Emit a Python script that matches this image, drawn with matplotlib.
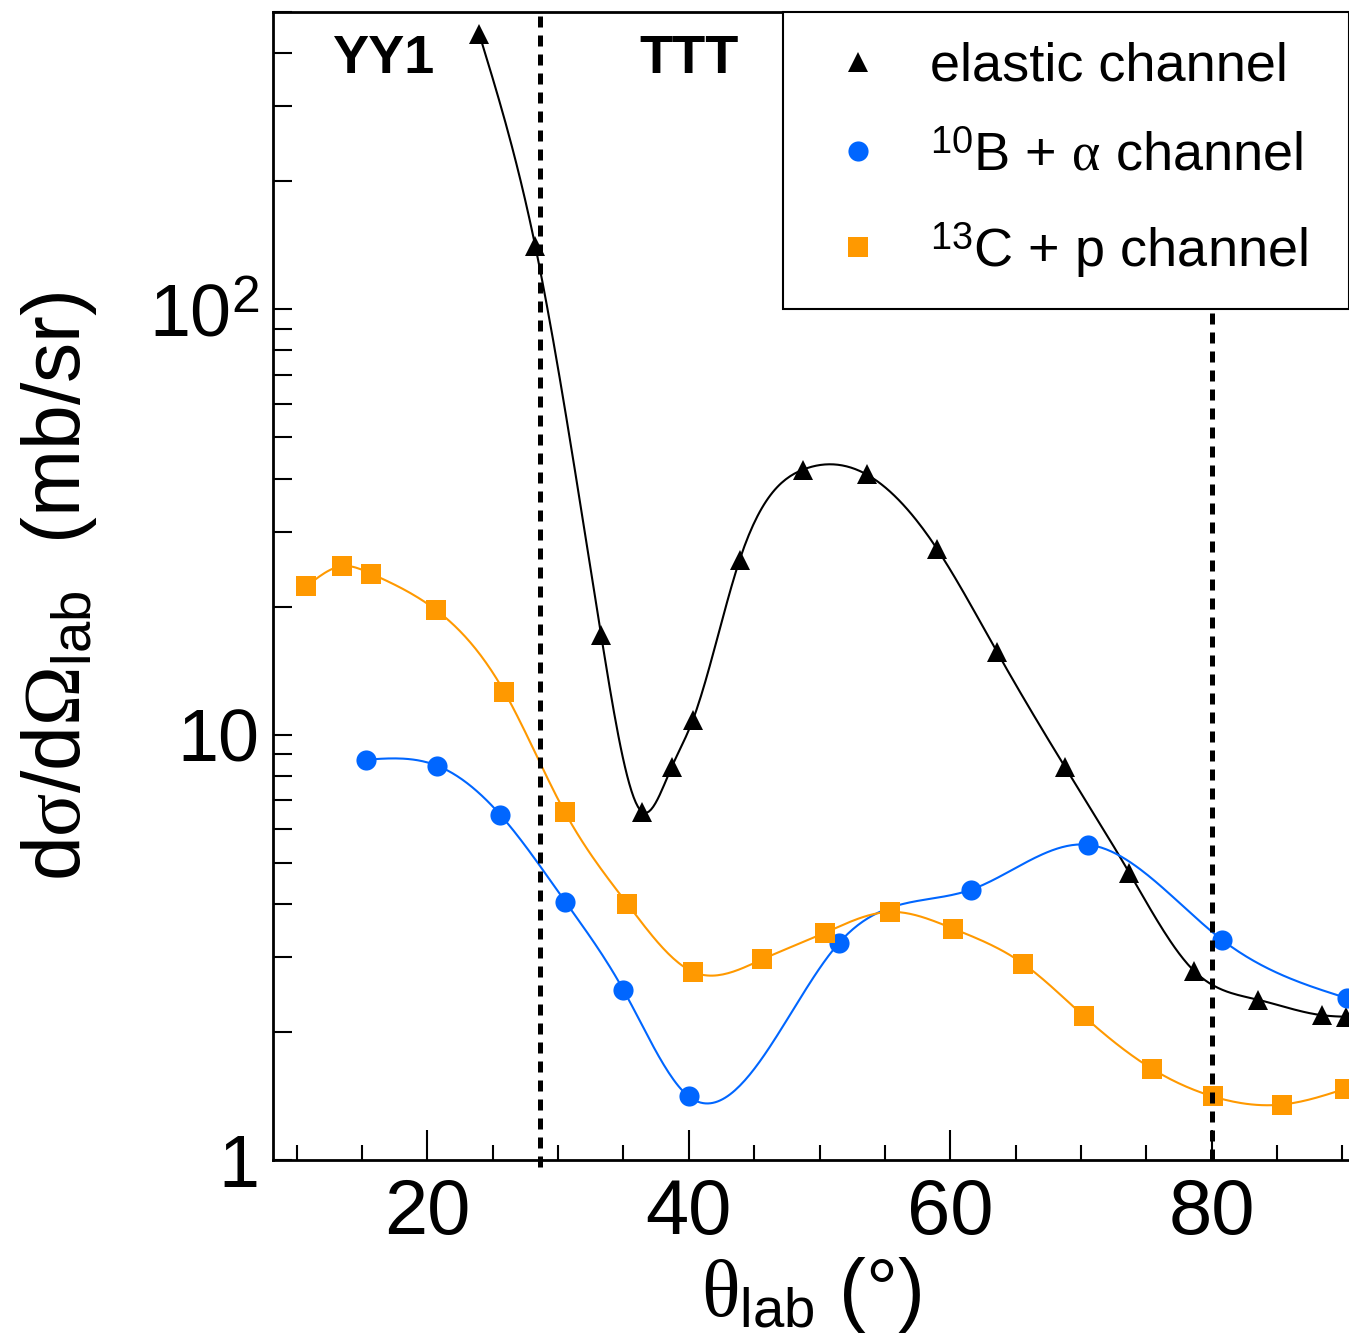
import numpy as np
import matplotlib
matplotlib.use('Agg')
import matplotlib.pyplot as plt
from matplotlib.ticker import FixedLocator, LogLocator, NullFormatter

plt.rcParams['font.family'] = ['Liberation Sans', 'DejaVu Sans']
plt.rcParams['mathtext.fontset'] = 'custom'
plt.rcParams['mathtext.rm'] = 'Liberation Sans'
plt.rcParams['mathtext.it'] = 'Liberation Serif'
plt.rcParams['mathtext.cal'] = 'Liberation Serif'
plt.rcParams['mathtext.bf'] = 'Liberation Sans:bold'

# elastic channel
el_theta = [23.98, 28.26, 33.3, 36.4, 38.7, 40.3, 43.9, 48.76, 53.6, 59.0,
            63.6, 68.8, 73.7, 78.66, 83.55, 88.4, 90.3]
el_xs = [443, 140.7, 17.1, 6.59, 8.4, 10.8, 25.8, 42.0, 40.9, 27.3,
         15.6, 8.37, 4.73, 2.78, 2.38, 2.19, 2.17]

# 10B + alpha channel
ba_theta = [15.33, 20.76, 25.58, 30.55, 35.0, 40.0, 51.5, 61.6, 70.5, 80.8, 90.36]
ba_xs = [8.73, 8.45, 6.48, 4.05, 2.51, 1.41, 3.24, 4.32, 5.51, 3.29, 2.40]

# 13C + p channel
cp_theta = [10.75, 13.5, 15.7, 20.7, 25.9, 30.5, 35.3, 40.3, 45.6, 50.4,
            55.4, 60.2, 65.6, 70.2, 75.4, 80.1, 85.4, 90.2]
cp_xs = [22.3, 24.9, 23.9, 19.6, 12.6, 6.59, 4.0, 2.77, 2.96, 3.42,
         3.83, 3.50, 2.89, 2.18, 1.64, 1.41, 1.35, 1.47]

det_edges = [28.64, 80.0]
det_names = ['YY1', 'TTT']
det_label_x = [16.6, 40.0]


def smooth(x, y, n=400):
    # natural cubic spline through the points, in log10(y)
    x = np.asarray(x, float)
    ly = np.log10(np.asarray(y, float))
    m = len(x)
    h = np.diff(x)
    A = np.zeros((m, m))
    b = np.zeros(m)
    A[0, 0] = A[-1, -1] = 1
    for i in range(1, m - 1):
        A[i, i - 1] = h[i - 1]
        A[i, i] = 2 * (h[i - 1] + h[i])
        A[i, i + 1] = h[i]
        b[i] = 6 * ((ly[i + 1] - ly[i]) / h[i] - (ly[i] - ly[i - 1]) / h[i - 1])
    M = np.linalg.solve(A, b)
    xs = np.linspace(x[0], x[-1], n)
    k = np.clip(np.searchsorted(x, xs) - 1, 0, m - 2)
    hk = h[k]
    t1 = x[k + 1] - xs
    t0 = xs - x[k]
    ys = (M[k] * t1**3 + M[k + 1] * t0**3) / (6 * hk) \
        + (ly[k] / hk - M[k] * hk / 6) * t1 + (ly[k + 1] / hk - M[k + 1] * hk / 6) * t0
    return xs, 10**ys


fig = plt.figure(figsize=(13.49, 13.43), dpi=100)
ax = fig.add_axes([0.2024, 0.1363, 0.7976, 0.8548])

black = 'black'
blue = '#0066ff'
orange = '#ff9900'

for th, val, col, mk, lab in [
        (el_theta, el_xs, black, '^', 'elastic channel'),
        (ba_theta, ba_xs, blue, 'o', r'$^{10}$B + $\alpha$ channel'),
        (cp_theta, cp_xs, orange, 's', r'$^{13}$C + p channel')]:
    sx, sy = smooth(th, val)
    ax.plot(sx, sy, color=col, lw=1.5, zorder=2)
    ax.plot(th, val, ls='none', marker=mk, color=col, ms=15 if mk != 'o' else 14.5,
            mew=0, label=lab, zorder=3)

ax.axvline(det_edges[0], ymin=-0.006, ymax=1, color='black', lw=3.6,
           ls=(0, (2.2, 1.6)), clip_on=False, zorder=4)
ax.axvline(det_edges[1], ymin=0, ymax=0.7535, color='black', lw=3.6,
           ls=(0, (2.2, 1.6)), zorder=4)

for nm, xx in zip(det_names, det_label_x):
    ax.text(xx, 387, nm, ha='center', va='center', fontsize=39, fontweight='bold')

ax.set_yscale('log')
ax.set_xlim(8.2, 90.5)
ax.set_ylim(1, 500)

ax.xaxis.set_major_locator(FixedLocator([20, 40, 60, 80]))
ax.xaxis.set_minor_locator(FixedLocator([10, 15, 25, 30, 35, 45, 50, 55, 65, 70, 75, 85, 90]))
ax.yaxis.set_major_locator(FixedLocator([1, 10, 100]))
ax.set_yticklabels(['1', '10', r'10$^2$'])
ax.yaxis.set_minor_locator(LogLocator(base=10, subs=np.arange(2, 10)))
ax.yaxis.set_minor_formatter(NullFormatter())

ax.tick_params(axis='x', which='major', direction='in', length=21.6, width=1.5,
               labelsize=56, pad=12, top=False)
ax.tick_params(axis='x', which='minor', direction='in', length=10.8, width=1.5, top=False)
ax.tick_params(axis='y', which='both', direction='in', length=13.7, width=1.5,
               labelsize=53, pad=10, right=False)

for s in ['left', 'bottom', 'top']:
    ax.spines[s].set_linewidth(2)
ax.spines['right'].set_visible(False)

ax.set_xlabel(r'$\theta_{\rm lab}$ (°)', fontsize=58, labelpad=4)
ax.set_ylabel(r'd$\sigma$/d$\mathcal{\Omega}_{\rm lab}$  (mb/sr)', fontsize=58, labelpad=36)

leg = ax.legend(loc='upper left', bbox_to_anchor=(0.474, 0.0, 0.526, 1.0), mode='expand',
                borderaxespad=0, fontsize=39, numpoints=1, handlelength=1.67,
                handletextpad=0.5, borderpad=0.55, labelspacing=0.72,
                fancybox=False, framealpha=1)
leg.get_frame().set_edgecolor('black')
leg.get_frame().set_linewidth(1.5)

fig.savefig('out.png', dpi=100)
